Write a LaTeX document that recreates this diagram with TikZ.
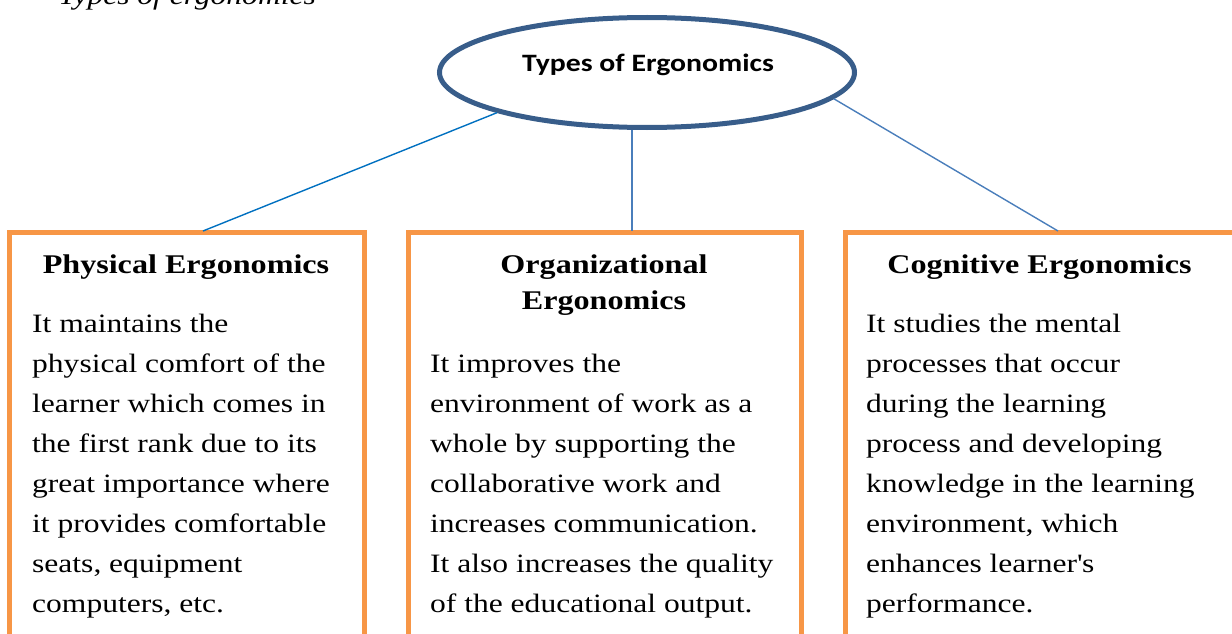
\documentclass[tikz,border=0pt]{standalone}
\usepackage{fontspec}
\setmainfont{Liberation Serif}[FakeStretch=1.19]
\newfontfamily\calibri{Carlito}[FakeStretch=1.19]
\usetikzlibrary{shapes.geometric}
\definecolor{boxorange}{HTML}{F79646}
\definecolor{ellblue}{HTML}{385D8A}
\definecolor{lineblueA}{HTML}{0070C0}
\definecolor{lineblueB}{HTML}{4A7EBB}
\tikzset{
  ebox/.style={draw=boxorange, line width=5pt},
  headtxt/.style={font=\fontsize{27}{36}\selectfont\bfseries, align=center, anchor=base, inner sep=0pt},
  bodytxt/.style={font=\fontsize{26.5}{40}\selectfont, align=left, anchor=base west, inner sep=0pt},
  conn/.style={line width=1.4pt},
}
\begin{document}
\begin{tikzpicture}[x=1pt,y=-1pt]
\useasboundingbox (0,0) rectangle (1232,634);
\clip (0,0) rectangle (1232,634);
% caption (cut off at top)
\node[font=\fontsize{26.5}{32}\selectfont\itshape, anchor=base east, inner sep=0pt] (cap) at (316,5) {Types of ergonomics};
% root ellipse
\node[ellipse, draw=ellblue, line width=5pt, minimum width=415pt, minimum height=110pt, inner sep=0pt] (root) at (647,72.5) {};
\node[font=\calibri\fontsize{25}{28}\selectfont\bfseries, anchor=base, inner sep=0pt] (rootlbl) at (648,71) {Types of Ergonomics};
% boxes
\draw[ebox] (9,680) -- (9,232.5) -- (364,232.5) -- (364,680);
\draw[ebox] (408,680) -- (408,232.5) -- (801,232.5) -- (801,680);
\draw[ebox] (845,680) -- (845,232.5) -- (1245,232.5) -- (1245,680);
\coordinate (pTop) at (203,231);
\coordinate (oTop) at (632,231);
\coordinate (cTop) at (1058,231);
% connectors
\draw[conn, lineblueA] (root.195.6) -- (pTop);
\draw[conn, lineblueB] (root.south -| oTop) -- (oTop);
\draw[conn, lineblueB] (root.-8.5) -- (cTop);
% headings
\node[headtxt] (ph) at (186,273) {Physical Ergonomics};
\node[headtxt] (oh) at (604,309) {Organizational\\Ergonomics};
\node[headtxt] (ch) at (1039.5,273) {Cognitive Ergonomics};
% bodies
\node[bodytxt] (pb) at (32,612) {It maintains the\\physical comfort of the\\learner which comes in\\the first rank due to its\\great importance where\\it provides comfortable\\seats, equipment\\computers, etc.};
\node[bodytxt] (ob) at (430,612) {It improves the\\environment of work as a\\whole by supporting the\\collaborative work and\\increases communication.\\It also increases the quality\\of the educational output.};
\node[bodytxt] (cb) at (866,612) {It studies the mental\\processes that occur\\during the learning\\process and developing\\knowledge in the learning\\environment, which\\enhances learner\textquotesingle s\\performance.};
\end{tikzpicture}
\end{document}
